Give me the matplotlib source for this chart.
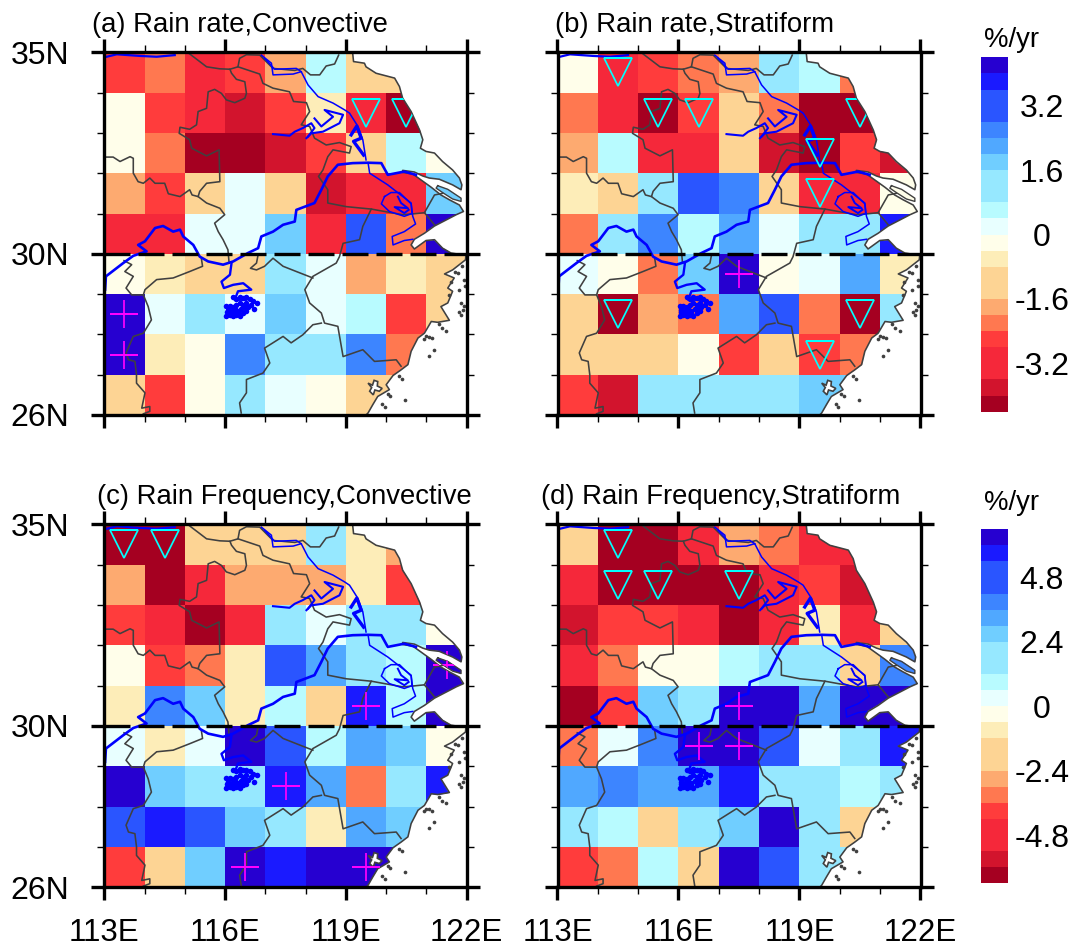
import numpy as np
import matplotlib
matplotlib.use('Agg')
import matplotlib.pyplot as plt
from matplotlib.colors import ListedColormap, BoundaryNorm
from matplotlib.path import Path

plt.rcParams['font.family'] = ['Liberation Sans', 'DejaVu Sans']

nan = np.nan

# cell values in %/yr, rows from 34-35N down to 26-27N, columns 113E to 122E
rate_conv = [
	[-2.6, -2.2, -3.0, -2.6, -1.8, 0.6, -1.0, -1.0, nan],
	[-0.2, -2.6, -3.0, -3.8, -2.6, -0.6, -3.0, -4.2, nan],
	[-0.2, -2.2, -4.2, -4.2, -3.8, -2.6, -1.0, 0.6, -0.2],
	[-1.8, -2.6, -1.0, 0.2, -1.0, -3.8, -3.0, -3.0, 1.8],
	[-3.0, -3.0, 0.2, 0.2, 1.8, -3.0, 3.0, -2.2, 4.2],
	[-0.2, -0.6, -1.0, -1.0, 1.0, 0.2, -1.8, -0.6, -1.0],
	[4.2, 0.2, 1.0, 0.2, 1.8, 0.2, 0.6, -2.6, -1.0],
	[4.2, -0.6, -0.2, 2.6, 1.0, 1.0, 2.6, -2.2, nan],
	[-1.0, -2.6, -0.2, 1.0, 0.2, -0.2, -1.0, -1.0, nan],
]
rate_strat = [
	[-0.2, -3.0, -2.6, -2.2, -1.8, 1.0, 0.6, -2.2, nan],
	[-2.2, -3.0, -4.2, -2.6, -1.0, -2.2, -4.2, -4.2, nan],
	[-1.8, 0.6, -3.0, -3.0, -1.0, -3.8, -4.2, -2.6, -3.8],
	[-0.6, -1.0, 1.0, 3.0, 2.6, -1.0, -3.0, -3.0, -0.2],
	[-2.2, 1.0, 2.6, 0.6, 2.2, 0.2, 1.0, 1.0, 3.8],
	[0.2, -0.2, -2.2, 1.8, 4.2, -0.2, 0.2, 2.2, -0.6],
	[-1.0, -4.2, -1.8, -2.2, 2.2, 3.0, -2.2, -4.2, 1.0],
	[-1.0, -1.0, -1.0, -0.2, -2.6, -1.0, -2.6, -2.2, nan],
	[-2.6, -3.8, 1.0, 1.0, 1.0, 1.0, 1.8, 1.8, nan],
]
freq_conv = [
	[-6.3, -6.3, -1.5, -1.5, -1.5, 1.5, -0.9, -2.7, nan],
	[-2.7, -6.3, -4.5, -2.7, -2.7, -2.7, -0.9, -3.9, nan],
	[-3.9, -4.5, -6.3, -4.5, 1.5, 0.3, 1.5, 1.5, -0.3],
	[-0.3, -3.9, -3.3, -0.9, 4.5, 3.3, 1.5, 0.9, 6.3],
	[-0.9, 3.9, 2.7, -0.9, 0.9, -1.5, 5.7, 0.9, 6.3],
	[0.3, -0.9, 0.3, 6.3, 4.5, 0.9, 3.3, 2.7, -0.3],
	[6.3, 2.7, 1.5, 1.5, 5.7, 3.3, -3.3, 1.5, 5.7],
	[4.5, 5.7, 4.5, 2.7, 1.5, -0.9, 3.3, 2.7, nan],
	[-3.9, -1.5, 2.7, 6.3, 5.7, 6.3, 6.3, 6.3, nan],
]
freq_strat = [
	[-1.5, -6.3, -6.3, -4.5, -2.7, -3.3, -4.5, -4.5, nan],
	[-4.5, -6.3, -6.3, -6.3, -6.3, -4.5, -3.9, -5.7, nan],
	[-5.7, -3.9, -3.9, -4.5, -6.3, -4.5, -0.9, -4.5, -1.5],
	[-4.5, -3.3, -0.3, -0.3, 0.9, 1.5, 1.5, -1.5, 3.9],
	[-6.3, -3.9, 2.7, 1.5, 6.3, 6.3, 3.3, 6.3, 6.3],
	[-3.3, 0.3, 3.9, 6.3, 6.3, 4.5, 0.3, 1.5, 5.7],
	[3.3, 3.9, 3.3, 3.3, 5.7, 1.5, 1.5, 0.9, 1.5],
	[1.5, 0.9, -1.5, 1.5, 2.7, 6.3, 1.5, -1.5, nan],
	[-3.9, -3.3, 0.9, -1.5, 6.3, 4.5, 1.5, 1.5, nan],
]

titles = ['(a) Rain rate,Convective', '(b) Rain rate,Stratiform',
	'(c) Rain Frequency,Convective', '(d) Rain Frequency,Stratiform']

# significant cells, lon/lat
down_lon = [[119.5, 120.5],
	[114.5, 115.5, 116.5, 120.5, 119.5, 119.5, 114.5, 120.5, 119.5],
	[113.5, 114.5],
	[114.5, 114.5, 115.5, 117.5]]
down_lat = [[33.5, 33.5],
	[34.5, 33.5, 33.5, 33.5, 32.5, 31.5, 28.5, 28.5, 27.5],
	[34.5, 34.5],
	[34.5, 33.5, 33.5, 33.5]]
up_lon = [[113.5, 113.5], [117.5], [121.5, 119.5, 117.5, 116.5, 119.5], [117.5, 116.5, 117.5]]
up_lat = [[28.5, 27.5], [29.5], [31.5, 30.5, 28.5, 26.5, 26.5], [30.5, 29.5, 29.5]]

# colour boxes bottom to top
box_colors = ['#a50021', '#d2142d', '#f5283a', '#f5283a', '#ff3c3c', '#ff7850', '#fdaa70',
	'#fdd494', '#fdd494', '#fdedb8', '#fffeea', '#e8ffff', '#b8fbff', '#96e8ff', '#96e8ff',
	'#70ceff', '#50a8ff', '#3d85ff', '#2a55ff', '#2a55ff', '#1a1aff', '#2600d0']
rate_ticks = [-3.2, -1.6, 0, 1.6, 3.2]
rate_ticklabels = ['-3.2', '-1.6', '0', '1.6', '3.2']
freq_ticks = [-4.8, -2.4, 0, 2.4, 4.8]
freq_ticklabels = ['-4.8', '-2.4', '0', '2.4', '4.8']

# geography, lon/lat
coast_lon = [119.17, 119.19, 119.46, 119.50, 119.75, 120.21, 120.33, 120.41, 120.62, 120.83, 120.91, 120.85,
	120.99, 121.20, 121.40, 121.65, 121.82, 121.88, 121.86, 121.65, 121.32, 121.07, 120.91, 120.70, 120.41,
	120.41, 120.66, 120.87, 121.12, 121.36, 121.57, 121.82, 121.92, 121.74, 121.49, 121.20, 120.95, 120.70,
	120.62, 120.70, 120.99, 121.20, 121.40, 121.61, 121.86, 121.98, 121.97, 121.65, 121.45, 121.69, 121.53,
	121.65, 121.53, 121.36, 121.57, 121.28, 121.12, 120.95, 120.79, 120.62, 120.54, 120.37, 120.17, 120.00,
	120.08, 119.79, 119.67, 119.55, 119.50]
coast_lat = [34.96, 34.77, 34.73, 34.64, 34.48, 34.36, 34.15, 33.86, 33.53, 33.07, 32.83, 32.62,
	32.54, 32.50, 32.29, 32.08, 31.88, 31.71, 31.59, 31.71, 31.85, 31.88, 31.93, 32.03, 32.07,
	32.02, 31.98, 31.83, 31.65, 31.46, 31.34, 31.21, 31.05, 30.97, 30.84, 30.69, 30.51, 30.36,
	30.22, 30.12, 30.33, 30.35, 30.14, 30.02, 29.98, 29.97, 29.85, 29.60, 29.50, 29.40, 29.15,
	29.07, 28.78, 28.69, 28.35, 28.30, 28.32, 28.03, 27.91, 27.58, 27.25, 27.12, 26.98, 26.75,
	26.63, 26.46, 26.26, 26.05, 26.00]
island_lon = [121.28, 121.53, 121.86, 121.86, 121.65, 121.40, 121.24, 121.28]
island_lat = [31.69, 31.60, 31.38, 31.30, 31.36, 31.52, 31.63, 31.69]
bay_lon = [119.55, 119.66, 119.70, 119.79, 119.78, 119.90, 119.83, 119.72, 119.68, 119.59, 119.64, 119.55]
bay_lat = [26.79, 26.74, 26.86, 26.83, 26.72, 26.66, 26.59, 26.62, 26.50, 26.59, 26.68, 26.79]
islet_lon = [121.94, 121.86, 121.86, 121.49, 121.07, 121.20, 121.06, 120.33, 120.04, 120.47, 119.96, 121.78, 121.57, 121.94, 121.15, 121.00,
	121.95, 121.80, 121.72, 121.60, 121.90, 121.82, 121.30, 121.38, 120.95, 120.40, 120.10, 119.90, 121.88]
islet_lat = [29.36, 28.78, 28.49, 28.09, 27.93, 27.62, 27.47, 26.96, 26.53, 26.38, 26.21, 29.52, 28.98, 28.70, 27.90, 27.95,
	29.20, 29.10, 29.55, 29.30, 28.60, 28.55, 28.25, 28.15, 27.88, 26.90, 26.48, 26.28, 29.70]

border_lon = [
	[115.12, 115.37, 115.54, 115.87, 116.12, 116.32, 116.36, 116.53, 116.86, 117.02, 117.19, 117.73, 117.93, 118.12, 118.35, 118.51, 118.72, 118.82],
	[116.32, 116.86, 116.94, 117.19, 117.60, 117.70, 118.02, 118.10, 117.89, 118.10, 118.22, 118.51, 118.84, 119.13, 119.09, 118.68, 118.55, 118.43, 118.32, 118.55, 118.55, 119.01, 119.63, 119.96, 120.41, 120.66, 120.95, 121.20],
	[120.95, 121.20, 121.40],
	[119.63, 119.42, 119.34, 118.93, 118.84, 118.76, 118.18, 117.98, 118.10, 118.39, 118.47, 118.80, 118.93, 119.42, 119.71, 120.25, 120.37],
	[118.39, 118.18, 117.93, 117.64, 117.44, 116.98, 117.11, 116.94, 116.53, 116.53, 116.36, 116.40],
	[116.82, 116.78, 116.63, 116.78, 116.98, 117.19, 117.44, 117.77, 118.18],
	[116.12, 116.16, 116.28, 116.49, 116.53, 116.49, 116.24, 116.03, 115.91, 115.74, 115.58, 115.54, 115.33, 115.29, 115.12, 114.88, 114.86, 115.12, 115.17, 115.54, 115.85, 115.87, 115.54, 115.37, 115.33, 115.18, 115.12, 114.88, 114.59, 114.50, 114.26, 114.13, 113.97, 113.84, 113.72, 113.72, 113.64, 113.39, 113.22, 113.00],
	[115.33, 115.54, 115.87, 115.99, 115.74, 115.83, 115.95, 116.07, 116.10],
	[115.41, 115.44, 115.12, 114.71, 114.30, 114.01, 113.97, 114.09, 114.17, 113.97, 113.72, 113.54, 113.60, 113.76, 113.80, 113.80, 114.01, 113.93, 114.13, 114.13, 113.97],
	[113.97, 113.68, 113.54, 113.72, 113.51, 113.68, 113.49],
]
border_lat = [
	[34.96, 34.77, 34.64, 34.59, 34.58, 34.64, 34.85, 34.94, 34.93, 34.77, 34.60, 34.55, 34.60, 34.44, 34.44, 34.66, 34.71, 34.93],
	[34.64, 34.46, 34.23, 34.11, 34.02, 33.78, 33.75, 33.53, 33.20, 33.16, 32.87, 32.70, 32.76, 32.66, 32.50, 32.58, 32.41, 32.08, 31.92, 31.59, 31.26, 31.17, 31.11, 31.05, 30.97, 30.99, 31.02, 30.72],
	[31.02, 31.46, 31.50],
	[31.11, 30.68, 30.35, 30.26, 29.93, 29.77, 29.44, 29.11, 28.78, 28.53, 28.28, 28.20, 27.45, 27.62, 27.33, 27.37, 27.21],
	[28.28, 28.24, 27.99, 27.79, 27.95, 27.66, 27.29, 27.04, 26.88, 26.55, 26.30, 26.05],
	[29.98, 29.77, 29.64, 29.60, 29.69, 29.89, 29.69, 29.56, 29.40],
	[34.58, 34.48, 34.33, 34.27, 33.98, 33.86, 33.75, 33.82, 33.98, 34.08, 34.02, 33.61, 33.53, 33.20, 33.09, 33.14, 32.99, 32.83, 32.62, 32.43, 32.58, 31.79, 31.75, 31.55, 31.42, 31.46, 31.59, 31.42, 31.49, 31.75, 31.75, 31.88, 31.75, 31.79, 32.00, 32.37, 32.41, 32.29, 32.40, 32.40],
	[31.42, 31.26, 31.13, 30.97, 30.76, 30.55, 30.35, 30.10, 29.77],
	[29.89, 29.69, 29.56, 29.40, 29.36, 29.11, 28.98, 28.69, 28.36, 28.03, 27.95, 27.54, 27.37, 27.33, 27.00, 26.79, 26.55, 26.17, 26.21, 26.09, 26.03],
	[28.98, 28.98, 29.15, 29.44, 29.56, 29.73, 29.83],
]

river_lon = [
	[113.02, 113.04, 113.47, 113.72, 114.05, 113.84, 114.01, 114.26, 114.46, 114.71, 114.88, 114.96, 115.21, 115.37, 115.58, 115.95, 116.20, 116.57, 116.82, 116.90, 117.19, 117.44, 117.73, 117.77, 118.22, 118.39, 118.55, 118.80, 119.17, 119.55, 119.88, 120.04, 120.45, 120.74],
	[119.55, 119.59, 120.04, 120.62, 120.66, 120.73, 120.45, 120.15, 120.17, 120.45, 120.66],
	[119.96, 120.12, 120.33, 120.62, 120.64, 120.45, 120.08, 119.88, 119.96],
	[120.29, 120.37, 120.54, 120.21, 120.45, 120.56],
	[116.90, 117.15, 117.19, 117.69, 117.89, 118.06, 118.31, 118.68, 118.97, 119.09, 119.30, 119.42, 119.50],
	[116.98, 117.23, 117.77, 117.89],
	[113.02, 113.31, 113.88, 114.30, 114.75],
	[117.19, 117.60, 117.73, 117.93, 118.14, 118.22, 118.06],
	[118.22, 118.39, 118.68, 118.47, 118.93, 118.84, 118.43, 118.14, 118.02],
	[116.16, 116.12, 115.91, 115.97, 116.20, 116.45, 116.65, 116.32, 116.24, 116.53],
]
river_lat = [
	[29.11, 29.44, 29.77, 29.95, 30.06, 30.22, 30.31, 30.64, 30.69, 30.55, 30.60, 30.43, 30.22, 29.93, 29.81, 29.73, 29.81, 30.02, 30.14, 30.43, 30.55, 30.72, 30.80, 31.09, 31.26, 31.59, 31.92, 32.21, 32.25, 32.26, 32.25, 31.96, 32.04, 31.96],
	[32.26, 32.00, 31.71, 31.26, 30.93, 30.74, 30.55, 30.43, 30.22, 30.33, 30.36],
	[31.42, 31.52, 31.52, 31.24, 31.00, 30.93, 31.05, 31.24, 31.42],
	[31.42, 31.26, 31.13, 31.16, 31.01, 31.09],
	[34.93, 34.73, 34.44, 34.46, 34.52, 34.19, 33.90, 33.74, 33.57, 33.49, 33.16, 32.83, 32.33],
	[34.85, 34.58, 34.60, 34.52],
	[34.88, 34.95, 34.91, 34.89, 34.93],
	[32.97, 32.93, 33.03, 33.12, 33.24, 33.12, 32.91],
	[33.36, 33.16, 33.40, 33.57, 33.45, 33.24, 33.03, 32.99, 32.87],
	[29.77, 29.48, 29.31, 29.15, 29.23, 29.27, 29.11, 29.07, 28.86, 28.86],
]
river_width = [1.9, 1.1, 1.1, 1.4, 1.1, 1.1, 1.6, 1.5, 1.5, 1.7]
gaoyou_lon = [119.13, 119.27, 119.38, 119.19, 119.44]
gaoyou_lat = [32.95, 33.17, 32.87, 32.79, 32.45]
poyang_lon = [116.20, 116.28, 116.36, 116.45, 116.53, 116.61, 116.69, 116.78, 116.65, 116.53, 116.45, 116.36, 116.28, 116.20, 116.12, 116.03, 116.07, 116.16, 116.24, 116.32, 116.40, 116.49, 116.57, 116.73, 116.03, 116.12, 116.20, 116.28, 116.36, 116.45, 116.32, 116.24, 116.16, 116.05, 116.53]
poyang_lat = [28.92, 28.88, 28.94, 28.90, 28.92, 28.88, 28.82, 28.78, 28.74, 28.78, 28.74, 28.78, 28.74, 28.69, 28.71, 28.71, 28.61, 28.59, 28.63, 28.59, 28.63, 28.67, 28.67, 28.62, 28.45, 28.49, 28.45, 28.49, 28.45, 28.53, 28.53, 28.53, 28.53, 28.55, 28.57]

lon_edges = np.arange(113, 123)
lat_edges = np.arange(35, 25, -1)
lon_major = [113, 116, 119, 122]
lon_labels = ['113E', '116E', '119E', '122E']
lat_major = [26, 30, 35]
lat_labels = ['26N', '30N', '35N']

W, H = 1072, 948
fig = plt.figure(figsize=(W/100, H/100), dpi=100)

land_lon = [112.5, 112.5, 119.17] + coast_lon + [119.5, 112.5]
land_lat = [25.5, 35.5, 35.5] + coast_lat + [25.5, 25.5]
land_path = Path.make_compound_path(
	Path(np.column_stack([land_lon, land_lat]), closed=True),
	Path(np.column_stack([island_lon, island_lat]), closed=True))


def add_axes_px(left, top, right, bottom):
	return fig.add_axes([left/W, 1-bottom/H, (right-left)/W, (bottom-top)/H])


def draw_panel(ax, vals, levels, k):
	cmap = ListedColormap(box_colors)
	norm = BoundaryNorm(levels, cmap.N)
	mesh = ax.pcolormesh(lon_edges, lat_edges, np.array(vals), cmap=cmap, norm=norm)
	mesh.set_clip_path(land_path, ax.transData)

	for i in range(len(border_lon)):
		ax.plot(border_lon[i], border_lat[i], color='#404040', lw=1.15, zorder=3)
	ax.plot(coast_lon, coast_lat, color='#404040', lw=1.15, zorder=3)
	ax.plot(island_lon, island_lat, color='#404040', lw=1.0, zorder=3)
	ax.fill(bay_lon, bay_lat, facecolor='white', edgecolor='#404040', lw=1.2, zorder=3)
	ax.scatter(islet_lon, islet_lat, s=7, color='#404040', linewidths=0, zorder=3)

	for i in range(len(river_lon)):
		ax.plot(river_lon[i], river_lat[i], color='#0000ff', lw=river_width[i], zorder=4)
	ax.plot(gaoyou_lon, gaoyou_lat, color='#0000ff', lw=2.4, zorder=4)
	ax.scatter(poyang_lon, poyang_lat, s=16, color='#0000ff', linewidths=0, zorder=4)

	tri = ax.plot(down_lon[k], down_lat[k], 'v', ms=19.5, mfc='none', mec='#00ffff', mew=1.25, zorder=5)[0]
	tri.set_clip_path(land_path, ax.transData)
	tri.set_snap(False)
	plus = ax.plot(up_lon[k], up_lat[k], '+', ms=20, mec='#ff00ff', mew=1.25, zorder=5)[0]
	plus.set_clip_path(land_path, ax.transData)
	plus.set_snap(False)

	ax.plot([113, 122], [30, 30], color='black', lw=2.4, ls=(0, (7.8, 2.4)), dash_capstyle='butt', zorder=6)

	ax.set_xlim(113, 122)
	ax.set_ylim(26, 35)
	ax.set_xticks(lon_major)
	ax.set_yticks(lat_major)
	ax.set_xticks(lon_edges, minor=True)
	ax.set_yticks(lat_edges, minor=True)
	ax.tick_params(which='major', direction='out', length=9.4, width=2.4, top=True, right=True)
	ax.tick_params(which='minor', direction='out', length=4.7, width=1.0, top=True, right=True)
	for s in ax.spines.values():
		s.set_linewidth(2.4)
		s.set_zorder(7)


panel_box = [(104.3, 52.3, 466.7, 415), (557.5, 52.3, 920.5, 415),
	(104.3, 524.3, 466.7, 887.3), (557.5, 524.3, 920.5, 887.3)]
title_x = [92, 555, 97, 541]
title_y = [32, 32, 504, 504]
panel_vals = [rate_conv, rate_strat, freq_conv, freq_strat]
panel_levels = [np.arange(-4.4, 4.41, 0.4), np.arange(-4.4, 4.41, 0.4),
	np.arange(-6.6, 6.61, 0.6), np.arange(-6.6, 6.61, 0.6)]

for k in range(4):
	ax = add_axes_px(*panel_box[k])
	draw_panel(ax, panel_vals[k], panel_levels[k], k)
	if k in (0, 2):
		ax.set_yticklabels(lat_labels, fontsize=23)
		ax.tick_params(axis='y', which='major', pad=16)
	else:
		ax.set_yticklabels([])
	if k >= 2:
		ax.set_xticklabels(lon_labels, fontsize=22.5)
		ax.tick_params(axis='x', which='major', pad=13)
	else:
		ax.set_xticklabels([])
	fig.text(title_x[k]/W, 1-title_y[k]/H, titles[k], fontsize=19.8, ha='left', va='baseline')

# colour bars
cbar_box = [(980.7, 57.3, 1008, 411.7), (980.7, 529.3, 1008, 883.3)]
cbar_levels = [panel_levels[0], panel_levels[2]]
cbar_ticks = [rate_ticks, freq_ticks]
cbar_labels = [rate_ticklabels, freq_ticklabels]
unit_y = [47, 510]
for j in range(2):
	cax = add_axes_px(*cbar_box[j])
	cmap = ListedColormap(box_colors)
	norm = BoundaryNorm(cbar_levels[j], cmap.N)
	sm = plt.cm.ScalarMappable(norm=norm, cmap=cmap)
	cb = fig.colorbar(sm, cax=cax, spacing='uniform', ticks=cbar_ticks[j], drawedges=False)
	cb.outline.set_visible(False)
	cb.minorticks_off()
	cax.tick_params(length=0, pad=24.3)
	cax.set_yticklabels(cbar_labels[j], fontsize=23, ha='center')
	fig.text(1011.5/W, 1-unit_y[j]/H, '%/yr', fontsize=19.8, ha='center', va='baseline')

fig.savefig('out.png', dpi=100)
